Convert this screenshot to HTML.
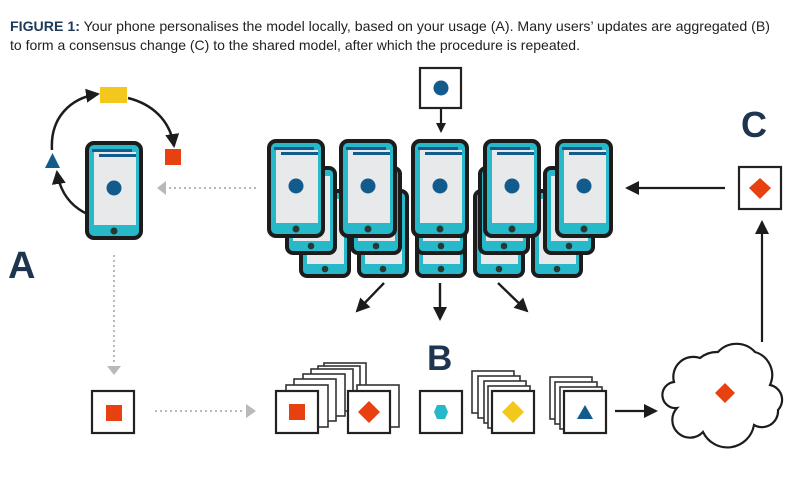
<!DOCTYPE html>
<html><head><meta charset="utf-8"><style>
html,body{margin:0;padding:0;background:#fff;}
svg{display:block;}
</style></head><body>
<svg width="800" height="500" viewBox="0 0 800 500" xmlns="http://www.w3.org/2000/svg">
<defs>
<g id="ph">
<rect x="2" y="2" width="54" height="95" rx="7" fill="#27b8c9" stroke="#1c1c1c" stroke-width="4"/>
<rect x="9" y="11" width="42" height="73" fill="#e7e9eb"/>
<rect x="7" y="8" width="40" height="3" fill="#135b8c"/>
<rect x="14" y="13" width="37" height="3" fill="#135b8c"/>
<circle cx="29" cy="47" r="7.5" fill="#135b8c"/>
<circle cx="29" cy="90" r="3.5" fill="#263a33"/>
</g>
<g id="phb">
<rect x="2" y="2" width="48" height="85" rx="6" fill="#27b8c9" stroke="#1c1c1c" stroke-width="4"/>
<rect x="8" y="10" width="37" height="65" fill="#e7e9eb"/>
<circle cx="26" cy="80" r="3.3" fill="#263a33"/>
</g>
<g id="card"><rect x="0" y="0" width="42" height="42" fill="#fff" stroke="#222" stroke-width="2.2"/></g>
<g id="cardt"><rect x="0" y="0" width="42" height="42" fill="#fff" stroke="#333" stroke-width="1.6"/></g>
<marker id="ah" markerWidth="10" markerHeight="10" refX="8" refY="5" orient="auto" markerUnits="userSpaceOnUse"><path d="M0,0 L10,5 L0,10 Z" fill="#1c1c1c"/></marker>
<marker id="ahb" markerWidth="14" markerHeight="14" refX="12" refY="7" orient="auto" markerUnits="userSpaceOnUse"><path d="M0,0 L14,7 L0,14 Z" fill="#1c1c1c"/></marker>
</defs>

<text x="10" y="31" font-family="Liberation Sans, sans-serif" font-size="14" fill="#222" textLength="760" lengthAdjust="spacingAndGlyphs"><tspan font-weight="bold" fill="#1e3a5a">FIGURE 1:</tspan> Your phone personalises the model locally, based on your usage (A). Many users’ updates are aggregated (B)</text>
<text x="10" y="50" font-family="Liberation Sans, sans-serif" font-size="14" fill="#222" textLength="570" lengthAdjust="spacingAndGlyphs">to form a consensus change (C) to the shared model, after which the procedure is repeated.</text>

<!-- A section -->
<path d="M52,150 C50,118 70,98 98,94" fill="none" stroke="#1c1c1c" stroke-width="2.5" marker-end="url(#ahb)"/>
<path d="M128,98 C152,104 170,120 174,146" fill="none" stroke="#1c1c1c" stroke-width="2.5" marker-end="url(#ahb)"/>
<path d="M122,219 C88,222 62,205 57,172" fill="none" stroke="#1c1c1c" stroke-width="2.5" marker-end="url(#ahb)"/>
<rect x="100" y="87" width="27" height="16" fill="#f3c81c"/>
<rect x="165" y="149" width="16" height="16" fill="#e8410f"/>
<path d="M45,168 L52.5,153 L60,168 Z" fill="#135b8c"/>
<use href="#ph" x="85" y="141"/>

<text x="8" y="278" font-family="Liberation Sans, sans-serif" font-weight="bold" font-size="38" fill="#1e3550">A</text>

<!-- gray dotted arrows -->
<line x1="256" y1="188" x2="168" y2="188" stroke="#b9b9b9" stroke-width="2" stroke-dasharray="2,3"/>
<path d="M157,188 L166,181 L166,195 Z" fill="#b9b9b9"/>
<line x1="114" y1="255" x2="114" y2="365" stroke="#b9b9b9" stroke-width="2" stroke-dasharray="2,3"/>
<path d="M107,366 L121,366 L114,375 Z" fill="#b9b9b9"/>
<line x1="155" y1="411" x2="245" y2="411" stroke="#b9b9b9" stroke-width="2" stroke-dasharray="2,3"/>
<path d="M246,404 L256,411 L246,418 Z" fill="#b9b9b9"/>

<use href="#card" x="92" y="391"/>
<rect x="106" y="405" width="16" height="16" fill="#e8410f"/>

<!-- phone stacks: back layer 2 -->
<use href="#phb" x="299" y="189"/>
<use href="#phb" x="357" y="189"/>
<use href="#phb" x="415" y="189"/>
<use href="#phb" x="473" y="189"/>
<use href="#phb" x="531" y="189"/>
<!-- back layer 1 -->
<use href="#phb" x="285" y="166"/>
<use href="#phb" x="350" y="166"/>
<use href="#phb" x="415" y="166"/>
<use href="#phb" x="478" y="166"/>
<use href="#phb" x="543" y="166"/>
<!-- front -->
<use href="#ph" x="267" y="139"/>
<use href="#ph" x="339" y="139"/>
<use href="#ph" x="411" y="139"/>
<use href="#ph" x="483" y="139"/>
<use href="#ph" x="555" y="139"/>

<!-- top box -->
<rect x="420" y="68" width="41" height="40" fill="#fff" stroke="#222" stroke-width="2.2"/>
<circle cx="441" cy="88" r="7.5" fill="#135b8c"/>
<line x1="441" y1="109" x2="441" y2="131" stroke="#1c1c1c" stroke-width="2.2" marker-end="url(#ah)"/>

<!-- down arrows -->
<line x1="384" y1="283" x2="357" y2="311" stroke="#1c1c1c" stroke-width="2.4" marker-end="url(#ahb)"/>
<line x1="440" y1="283" x2="440" y2="319" stroke="#1c1c1c" stroke-width="2.4" marker-end="url(#ahb)"/>
<line x1="498" y1="283" x2="527" y2="311" stroke="#1c1c1c" stroke-width="2.4" marker-end="url(#ahb)"/>

<text x="427" y="370" font-family="Liberation Sans, sans-serif" font-weight="bold" font-size="35" fill="#1e3550">B</text>

<!-- card stack 1 -->
<use href="#cardt" x="324" y="363"/>
<use href="#cardt" x="318" y="366"/>
<use href="#cardt" x="311" y="369"/>
<use href="#cardt" x="303" y="374"/>
<use href="#cardt" x="294" y="379"/>
<use href="#cardt" x="286" y="385"/>
<use href="#card" x="276" y="391"/>
<rect x="289" y="404" width="16" height="16" fill="#e8410f"/>
<!-- card 2 -->
<use href="#cardt" x="357" y="385"/>
<use href="#card" x="348" y="391"/>
<path d="M369,401 L380,412 L369,423 L358,412 Z" fill="#e8410f"/>
<!-- card 3 -->
<use href="#card" x="420" y="391"/>
<path d="M434,412 L437,405 L445,405 L448,412 L445,419 L437,419 Z" fill="#27b8c9"/>
<!-- card 4 -->
<use href="#cardt" x="472" y="371"/>
<use href="#cardt" x="478" y="376"/>
<use href="#cardt" x="484" y="381"/>
<use href="#cardt" x="488" y="386"/>
<use href="#card" x="492" y="391"/>
<path d="M513,401 L524,412 L513,423 L502,412 Z" fill="#f3c81c"/>
<!-- card 5 -->
<use href="#cardt" x="550" y="377"/>
<use href="#cardt" x="555" y="382"/>
<use href="#cardt" x="560" y="387"/>
<use href="#card" x="564" y="391"/>
<path d="M577,419 L585,405 L593,419 Z" fill="#135b8c"/>

<line x1="615" y1="411" x2="656" y2="411" stroke="#1c1c1c" stroke-width="2.2" marker-end="url(#ahb)"/>

<!-- cloud -->
<path d="M677,408 A13,13 0 0 1 674,382 A20,20 0 0 1 700,358 A27,27 0 0 1 718,352 A25,25 0 0 1 755,352 A24,24 0 0 1 770,385 A15,15 0 0 1 778,410 A16,16 0 0 1 754,425 A27,27 0 0 1 703,432 A17,17 0 0 1 677,408 Z" fill="#fff" stroke="#1c1c1c" stroke-width="2.2"/>
<path d="M725,383 L735,393 L725,403 L715,393 Z" fill="#e8410f"/>

<line x1="762" y1="342" x2="762" y2="222" stroke="#1c1c1c" stroke-width="2.2" marker-end="url(#ahb)"/>

<rect x="739" y="167" width="42" height="42" fill="#fff" stroke="#222" stroke-width="2.2"/>
<path d="M760,178 L771,188 L760,199 L749,188 Z" fill="#e8410f"/>
<text x="741" y="137" font-family="Liberation Sans, sans-serif" font-weight="bold" font-size="36" fill="#1e3550">C</text>

<line x1="725" y1="188" x2="627" y2="188" stroke="#1c1c1c" stroke-width="2.2" marker-end="url(#ahb)"/>
</svg>
</body></html>
